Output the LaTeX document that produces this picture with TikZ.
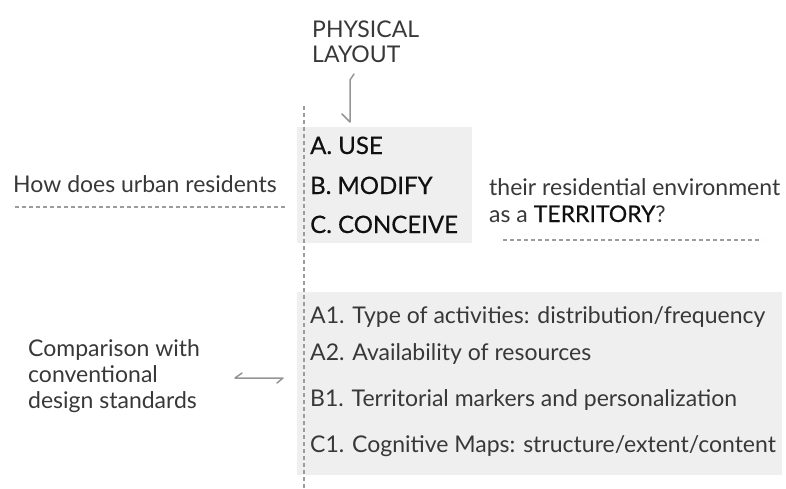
\documentclass[tikz,border=0pt]{standalone}
\usepackage{fontspec}
\setmainfont{Lato}
\newfontfamily\medfont[FakeBold=0.45]{Lato}
\usetikzlibrary{calc}
\definecolor{txt}{HTML}{383838}
\definecolor{ink}{HTML}{101010}
\definecolor{panel}{HTML}{EFEFEF}
\definecolor{rule}{HTML}{9C9C9C}
\definecolor{link}{HTML}{959595}
\tikzset{
  lbl/.style={anchor=base west, inner sep=0pt, text=txt, font=\fontsize{23}{26}\selectfont},
  item/.style={anchor=base west, inner sep=0pt, text=ink, font=\medfont\fontsize{24}{26}\selectfont},
  panelbox/.style={fill=panel, draw=none},
  guide/.style={draw=rule, line width=1.1pt, dash pattern=on 4pt off 3pt},
  link/.style={draw=link, line width=1.5pt, line cap=round, line join=round}
}
\begin{document}
\begin{tikzpicture}[x=1pt,y=-1pt]
\useasboundingbox (0,0) rectangle (786,489);

% shaded panels
\fill[panelbox] (297,127) rectangle (472,243);
\fill[panelbox] (297,292) rectangle (782,475);

% dashed guides
\draw[guide] (304,106) -- (304,489);
\draw[guide] (15,207) -- (285,207);
\draw[guide] (503,240) -- (762,240);

% physical layout
\node[lbl] (phys1) at (312,38) {PHYSICAL};
\node[lbl] (phys2) at (312,63) {LAYOUT};

% three actions
\node[item] (use) at (310,154) {A. USE};
\node[item] (mod) at (310,194) {B. MODIFY};
\node[item] (con) at (310,233) {C. CONCEIVE};

% question
\node[lbl] (q1) at (13,193) {How does urban residents};
\node[lbl] (q2) at (489,195) {their residential environment};
\node[lbl] (q3) at (489,222) {as a {\medfont\color{ink}TERRITORY}?};

% measures
\node[lbl] (a1) at (310,323) {A1. Type of activities: distribution/frequency};
\node[lbl] (a2) at (310,360) {A2. Availability of resources};
\node[lbl] (b1) at (310,406) {B1. Territorial markers and personalization};
\node[lbl] (c1) at (310,452) {C1. Cognitive Maps: structure/extent/content};

% comparison
\node[lbl] (cmp1) at (28,356) {Comparison with};
\node[lbl] (cmp2) at (28,382) {conventional};
\node[lbl] (cmp3) at (28,408) {design standards};

% connector: physical layout <-> actions
\coordinate (vt) at (350,80);
\coordinate (vb) at (350,122);
\draw[link] ($(vt)+(4,-6)$) -- (vt) -- (vb) -- ++(-8,-8);

% connector: comparison <-> measures
\coordinate (hl) at (235,378);
\coordinate (hr) at (283,378);
\draw[link] ($(hl)+(7,-5)$) -- (hl) -- (hr) -- ++(-6,5);
\end{tikzpicture}
\end{document}
